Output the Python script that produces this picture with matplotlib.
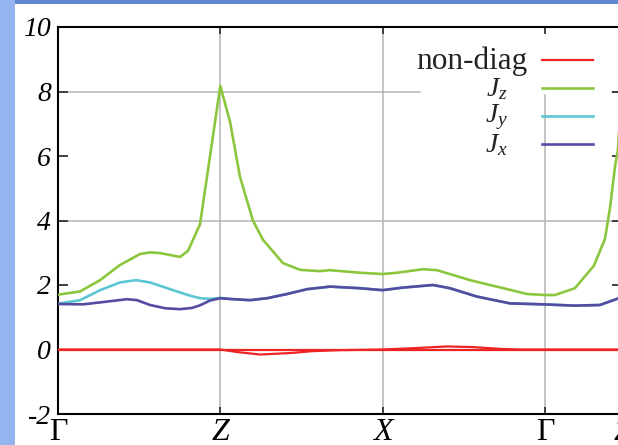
import matplotlib
matplotlib.use('Agg')
import matplotlib.pyplot as plt
from matplotlib.patches import Rectangle
import numpy as np

plt.rcParams['font.family'] = ['Liberation Serif', 'DejaVu Serif']
plt.rcParams['mathtext.fontset'] = 'custom'
plt.rcParams['mathtext.it'] = 'Liberation Serif:italic'
plt.rcParams['mathtext.rm'] = 'Liberation Serif'

# k-path (Γ - Z - X - Γ - Z), path length units
kpath_pos = [0.0, 1.0, 2.0, 3.0, 3.475]
kpath_lab = ['Γ', 'Z', 'X', 'Γ', 'Z']

# J_z
jz_k = [0.000, 0.136, 0.259, 0.382, 0.505, 0.567, 0.628, 0.752, 0.801, 0.875,
        1.000, 1.060, 1.121, 1.201, 1.263, 1.386, 1.491, 1.614, 1.676, 1.861,
        2.000, 2.089, 2.249, 2.335, 2.539, 2.785, 2.890, 3.000, 3.062, 3.185,
        3.302, 3.370, 3.401, 3.432, 3.450, 3.475]
jz = [1.70, 1.80, 2.15, 2.62, 2.96, 3.01, 2.99, 2.87, 3.06, 3.88,
      8.17, 7.06, 5.36, 4.00, 3.40, 2.68, 2.47, 2.43, 2.46, 2.38,
      2.34, 2.38, 2.49, 2.46, 2.15, 1.85, 1.72, 1.69, 1.69, 1.90,
      2.60, 3.43, 4.39, 5.67, 6.20, 8.17]

# J_x
jx_k = [0.000, 0.154, 0.259, 0.425, 0.487, 0.567, 0.659, 0.752, 0.826, 0.875,
        0.937, 1.000, 1.078, 1.183, 1.288, 1.411, 1.534, 1.676, 1.861, 2.000,
        2.126, 2.311, 2.415, 2.582, 2.785, 2.988, 3.185, 3.339, 3.450, 3.475]
jx = [1.41, 1.40, 1.46, 1.56, 1.53, 1.38, 1.28, 1.25, 1.29, 1.37,
      1.52, 1.59, 1.56, 1.53, 1.59, 1.72, 1.87, 1.95, 1.90, 1.84,
      1.92, 2.00, 1.90, 1.64, 1.43, 1.40, 1.36, 1.38, 1.58, 1.62]

# J_y (Γ-Z part, coincides with J_x afterwards)
jy_k_gz = [0.000, 0.136, 0.259, 0.382, 0.481, 0.567, 0.709, 0.813, 0.875, 0.937, 1.000]
jy_gz = [1.42, 1.53, 1.84, 2.08, 2.15, 2.08, 1.84, 1.67, 1.59, 1.57, 1.60]

# non-diagonal components
nd0_k = [0.0, 3.475]
nd0 = [0.0, 0.0]
nd1_k = [0.0, 1.000, 1.105, 1.245, 1.430, 1.572, 1.738, 2.000, 2.188, 2.397,
         2.557, 2.723, 2.850, 3.000, 3.475]
nd1 = [0.0, 0.0, -0.08, -0.155, -0.11, -0.05, -0.02, 0.0, 0.04, 0.095,
       0.075, 0.02, 0.0, 0.0, 0.0]

yticks = [-2, 0, 2, 4, 6, 8, 10]

c_red = '#ee2424'
c_green = '#8cc63e'
c_cyan = '#5cc6d4'
c_purple = '#544ca0'
c_grid = '#b4b4b4'

W, H = 618, 445
fig = plt.figure(figsize=(W / 100, H / 100), dpi=100)
fig.patch.set_facecolor('#94b4ef')
fig.patches.append(Rectangle((15 / W, 0), 1, (H - 4) / H, transform=fig.transFigure,
                             facecolor='white', edgecolor='none', zorder=-10))
fig.patches.append(Rectangle((15 / W, (H - 4) / H), 1, 4 / H, transform=fig.transFigure,
                             facecolor='#5f87cf', edgecolor='none', zorder=-10))

# axes span from x=58 to x=622 px (right edge just outside the picture)
ax = fig.add_axes([58 / W, 31 / H, 564 / W, 387 / H])
ax.set_xlim(0, kpath_pos[-1])
ax.set_ylim(-2, 10)

# grid (partly hidden behind the key like in the original)
ax.axvline(kpath_pos[1], color=c_grid, lw=1.1, zorder=1)
ax.axvline(kpath_pos[2], color=c_grid, lw=1.1, zorder=1)
ax.axvline(kpath_pos[3], color=c_grid, lw=1.1, ymax=(414 - 95) / 387, zorder=1)
ax.axhline(4, color=c_grid, lw=1.1, zorder=1)
ax.axhline(0, color=c_grid, lw=1.1, zorder=1)
ax.axhline(8, color=c_grid, lw=1.1, xmax=(420 - 58) / 564, zorder=1)
ax.axhline(8, color=c_grid, lw=1.1, xmin=(612 - 58) / 564, zorder=1)

jy_k = list(jy_k_gz) + [k for k in jx_k if k > 1.0]
jy = list(jy_gz) + [v for k, v in zip(jx_k, jx) if k > 1.0]

l_nd, = ax.plot(nd0_k, nd0, color=c_red, lw=1.6, zorder=3)
ax.plot(nd1_k, nd1, color=c_red, lw=1.6, zorder=3)
l_z, = ax.plot(jz_k, jz, color=c_green, lw=1.9, zorder=3)
l_y, = ax.plot(jy_k, jy, color=c_cyan, lw=1.9, zorder=3)
l_x, = ax.plot(jx_k, jx, color=c_purple, lw=1.9, zorder=3)

# key
def fx(px):
    return (px - 58) / 564

def fy(py):
    return (414 - py) / 387

key = [(l_nd, 'non-diag', 60, 527, 22.5), (l_z, '$J_z$', 88, 508, 20),
       (l_y, '$J_y$', 116, 508, 20), (l_x, '$J_x$', 144, 508, 20)]
for ln, lab, py, tx, fs in key:
    ax.plot([fx(542), fx(593)], [fy(py), fy(py)], color=ln.get_color(),
            lw=ln.get_linewidth(), transform=ax.transAxes, clip_on=False, zorder=4)
    ax.text(fx(tx), fy(py + 1), lab, transform=ax.transAxes, ha='right', va='center',
            fontsize=fs, color='#222222', zorder=4)

# axes styling
for s in ax.spines.values():
    s.set_linewidth(1.5)
    s.set_color('black')

ax.tick_params(axis='y', direction='in', length=7, width=1.3, right=True, pad=5,
               color='#333333')
ax.tick_params(axis='x', direction='in', length=5, width=1.3, top=True, pad=3,
               color='#333333')
ax.set_yticks(yticks, [str(v) for v in yticks], fontsize=20, fontstyle='italic',
              family='Liberation Serif')
ax.set_xticks(kpath_pos, kpath_lab, fontsize=23, family='Liberation Serif')
for t in ax.get_xticklabels():
    if t.get_text() != 'Γ':
        t.set_fontstyle('italic')

fig.savefig('out.png', dpi=100)
